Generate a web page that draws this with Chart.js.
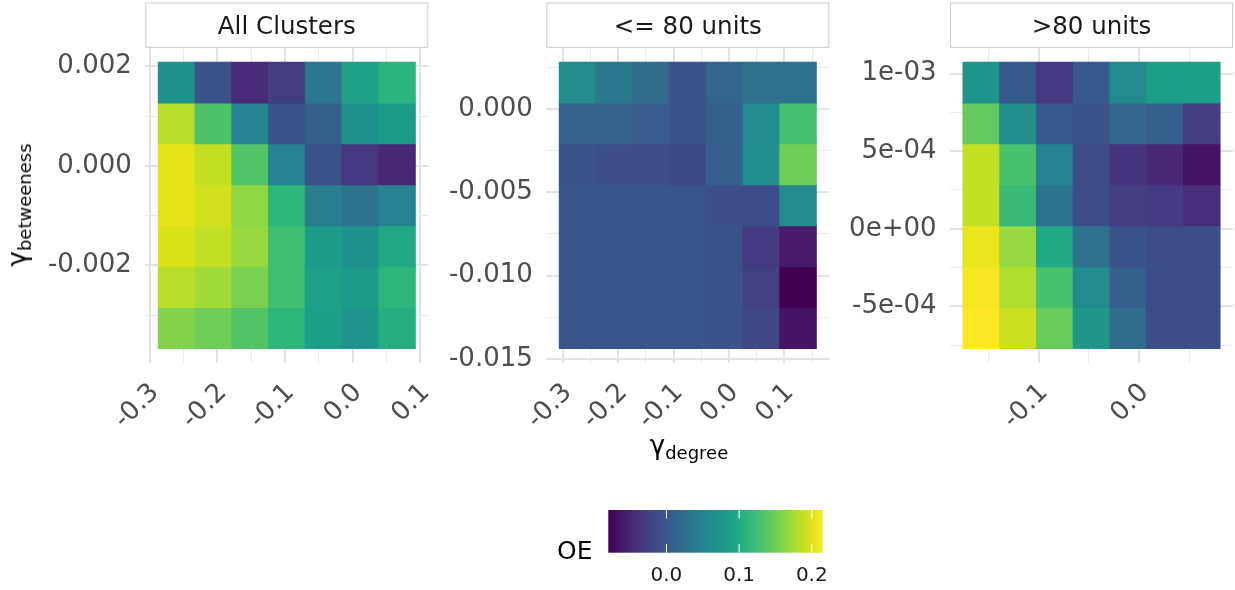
<!DOCTYPE html>
<html>
<head>
<meta charset="utf-8">
<title>OE by gamma degree / gamma betweeness</title>
<script src="https://cdn.jsdelivr.net/npm/chart.js@4.4.1/dist/chart.umd.min.js"></script>
<style>
  html, body { margin: 0; padding: 0; background: #fff; }
  #wrap { position: relative; width: 1235px; height: 590px; overflow: hidden; font-family: "DejaVu Sans", sans-serif; }
  #wrap canvas { position: absolute; left: 0; top: 0; }
  .title { position: absolute; white-space: nowrap; line-height: 1; height: 26px; font-size: 26px; color: #000; }
  .title sub { font-size: 18px; vertical-align: -5px; line-height: 1; }
</style>
</head>
<body>
<div id="wrap">
  <canvas id="facetAll" width="1235" height="590"></canvas>
  <canvas id="facetSmall" width="1235" height="590"></canvas>
  <canvas id="facetLarge" width="1235" height="590"></canvas>
  <canvas id="colorbar" width="1235" height="590"></canvas>
  <div class="title" id="yTitle" style="left:17px; top:205px; transform: translate(-50%, -50%) rotate(-90deg);">γ<sub>betweeness</sub></div>
  <div class="title" id="xTitle" style="left:689px; top:432px; transform: translateX(-50%);">γ<sub>degree</sub></div>
  <div class="title" id="legendTitle" style="left:557px; top:538px; font-size:25px;">OE</div>
</div>
<script>
// Heatmap of OE over gamma_degree x gamma_betweeness, one facet per cluster size

const facetTitles = ['All Clusters', '<= 80 units', '>80 units'];

// gamma_degree tile centres (columns), per facet
const degreeAll   = [-0.2601, -0.2058, -0.1516, -0.0973, -0.0430, 0.0112, 0.0655];
const degreeSmall = [-0.2731, -0.2068, -0.1406, -0.0743, -0.0080, 0.0583, 0.1245];
const degreeLarge = [-0.1570, -0.1205, -0.0840, -0.0475, -0.0110, 0.0255, 0.0620];

// gamma_betweeness tile centres (rows, top row first), per facet
const betweenAll   = [0.001676, 0.000853, 0.000030, -0.000793, -0.001616, -0.002439, -0.003262];
const betweenSmall = [0.001590, -0.000867, -0.003324, -0.005781, -0.008238, -0.010695, -0.013152];
const betweenLarge = [0.000943, 0.000679, 0.000415, 0.000151, -0.000113, -0.000377, -0.000641];

// OE per tile: one row per betweeness value (top first), one column per degree value
const oeAll = [
  [0.068, -0.006, -0.045, -0.027, 0.036, 0.088, 0.110],
  [0.183, 0.132, 0.050, -0.006, 0.009, 0.068, 0.080],
  [0.203, 0.188, 0.135, 0.050, -0.006, -0.033, -0.048],
  [0.203, 0.194, 0.165, 0.112, 0.047, 0.032, 0.050],
  [0.197, 0.188, 0.168, 0.124, 0.082, 0.068, 0.097],
  [0.183, 0.174, 0.156, 0.124, 0.088, 0.082, 0.112],
  [0.159, 0.150, 0.135, 0.112, 0.085, 0.073, 0.103]
];
const oeSmall = [
  [0.059, 0.038, 0.023, -0.006, 0.017, 0.029, 0.029],
  [0.012, 0.014, 0.006, -0.006, 0.009, 0.059, 0.127],
  [-0.006, -0.009, -0.009, -0.015, 0.009, 0.065, 0.150],
  [-0.003, -0.003, -0.003, -0.003, -0.009, -0.012, 0.059],
  [-0.003, -0.003, -0.003, -0.003, -0.006, -0.030, -0.059],
  [-0.003, -0.003, -0.003, -0.003, -0.006, -0.024, -0.080],
  [-0.003, -0.003, -0.003, -0.003, -0.006, -0.018, -0.065]
];
const oeLarge = [
  [0.073, 0.003, -0.033, 0.003, 0.059, 0.085, 0.085],
  [0.144, 0.065, 0.003, -0.006, 0.017, 0.009, -0.027],
  [0.188, 0.130, 0.050, -0.012, -0.036, -0.048, -0.065],
  [0.188, 0.118, 0.032, -0.012, -0.027, -0.030, -0.042],
  [0.206, 0.168, 0.097, 0.029, -0.006, -0.012, -0.009],
  [0.212, 0.180, 0.130, 0.059, 0.009, -0.012, -0.009],
  [0.215, 0.191, 0.147, 0.076, 0.023, -0.012, -0.009]
];

// axis breaks (labelled ticks)
const degreeBreaksAll   = [-0.3, -0.2, -0.1, 0.0, 0.1];
const degreeBreaksSmall = [-0.3, -0.2, -0.1, 0.0, 0.1];
const degreeBreaksLarge = [-0.1, 0.0];
const betweenBreaksAll   = [-0.002, 0.000, 0.002];
const betweenBreaksSmall = [-0.015, -0.010, -0.005, 0.000];
const betweenBreaksLarge = [-0.0005, 0.0000, 0.0005, 0.0010];
const oeBreaks = [0.0, 0.1, 0.2];

const FONT = '"DejaVu Sans", "Liberation Sans", sans-serif';
const TICK_COLOR = '#4d4d4d';
const GRID_MAJOR = '#e3e3e3';
const GRID_MINOR = '#ebebeb';
const PANEL_TOP = 47.7, PANEL_BOTTOM = 363, X_AXIS_H = 110, Y_AXIS_W = 100;

const viridisStops = ['#440154', '#471365', '#482475', '#463480', '#414487', '#3b528b', '#355f8d',
  '#2f6c8e', '#2a788e', '#25848e', '#21918c', '#1e9c89', '#22a884', '#2fb47c', '#44bf70',
  '#5ec962', '#7ad151', '#9bd93c', '#bddf26', '#dfe318', '#fde725'];

function hexRgb(h) { return [1, 3, 5].map(i => parseInt(h.slice(i, i + 2), 16)); }

function viridis(t) {
  t = Math.max(0, Math.min(1, t));
  const n = viridisStops.length - 1;
  const i = Math.min(n - 1, Math.floor(t * n));
  const f = t * n - i;
  const a = hexRgb(viridisStops[i]), b = hexRgb(viridisStops[i + 1]);
  const c = a.map((v, k) => Math.round(v + (b[k] - v) * f));
  return `rgb(${c[0]},${c[1]},${c[2]})`;
}

const allOE = [...oeAll, ...oeSmall, ...oeLarge].flat();
const oeMin = Math.min(...allOE), oeMax = Math.max(...allOE);

function expandRange(centres) {
  const step = Math.abs(centres[1] - centres[0]);
  const lo = Math.min(...centres) - step / 2, hi = Math.max(...centres) + step / 2;
  const pad = (hi - lo) * 0.05;
  return [lo - pad, hi + pad];
}

function minorBreaks(breaks, lo, hi) {
  const step = breaks[1] - breaks[0];
  const out = [];
  for (let i = -1; i < breaks.length; i++) {
    const v = (i < 0 ? breaks[0] - step : breaks[i]) + step / 2;
    if (v > lo && v < hi) out.push(v);
  }
  return out;
}

const isMajor = (v, breaks) => breaks.some(b => Math.abs(b - v) < 1e-10);
const fixed = d => v => (Math.abs(v) < 1e-12 ? 0 : v).toFixed(d);
function sci(v) {
  if (Math.abs(v) < 1e-15) return '0e+00';
  const e = Math.floor(Math.log10(Math.abs(v)) + 1e-9);
  const m = Math.round(v / Math.pow(10, e) * 100) / 100;
  return m + 'e' + (e < 0 ? '-' : '+') + String(Math.abs(e)).padStart(2, '0');
}

// facet strip drawn above the panel
const stripPlugin = {
  id: 'strip',
  afterDraw(chart, args, opts) {
    const { ctx, chartArea: a } = chart;
    ctx.save();
    ctx.fillStyle = '#fff';
    ctx.strokeStyle = '#cccccc';
    ctx.lineWidth = 1;
    ctx.fillRect(a.left, 2.7, a.right - a.left, 44.6);
    ctx.strokeRect(a.left + 0.5, 3, a.right - a.left - 1, 44.3);
    ctx.fillStyle = '#1a1a1a';
    ctx.font = '24.5px ' + FONT;
    ctx.textAlign = 'center';
    ctx.textBaseline = 'alphabetic';
    ctx.fillText(opts.text, (a.left + a.right) / 2, 34.3);
    ctx.restore();
  }
};

const facets = [
  { id: 'facetAll', title: facetTitles[0], xs: degreeAll, ys: betweenAll, z: oeAll,
    xBreaks: degreeBreaksAll, yBreaks: betweenBreaksAll, xFmt: fixed(1), yFmt: fixed(3), left: 145.3, right: 428.3 },
  { id: 'facetSmall', title: facetTitles[1], xs: degreeSmall, ys: betweenSmall, z: oeSmall,
    xBreaks: degreeBreaksSmall, yBreaks: betweenBreaksSmall, xFmt: fixed(1), yFmt: fixed(3), left: 546.3, right: 829.3 },
  { id: 'facetLarge', title: facetTitles[2], xs: degreeLarge, ys: betweenLarge, z: oeLarge,
    xBreaks: degreeBreaksLarge, yBreaks: betweenBreaksLarge, xFmt: fixed(1), yFmt: sci, left: 950, right: 1233 }
];

function drawFacet(f) {
  const xr = expandRange(f.xs), yr = expandRange(f.ys);
  const dy = Math.abs(f.ys[1] - f.ys[0]);
  const inX = v => v >= xr[0] && v <= xr[1];
  const inY = v => v >= yr[0] && v <= yr[1];
  const yTicks = [...f.yBreaks.filter(inY), ...minorBreaks(f.yBreaks, yr[0], yr[1])].sort((a, b) => a - b);
  const tickFont = { family: FONT, size: 26 };

  // one floating-bar dataset per betweeness row
  const datasets = f.ys.map((yc, r) => ({
    data: f.xs.map(xc => ({ x: xc, y: [yc - dy / 2, yc + dy / 2] })),
    backgroundColor: f.z[r].map(v => viridis((v - oeMin) / (oeMax - oeMin))),
    borderWidth: 0,
    grouped: false,
    barPercentage: 1,
    categoryPercentage: 1,
    inflateAmount: 0.4,
    xAxisID: 'x',
    yAxisID: 'y'
  }));

  return new Chart(document.getElementById(f.id), {
    type: 'bar',
    data: { datasets },
    options: {
      responsive: false,
      animation: false,
      events: [],
      devicePixelRatio: 1,
      layout: {
        autoPadding: false,
        padding: { left: f.left - Y_AXIS_W, right: 1235 - f.right, top: PANEL_TOP, bottom: 590 - PANEL_BOTTOM - X_AXIS_H }
      },
      plugins: { legend: { display: false }, tooltip: { enabled: false }, strip: { text: f.title } },
      scales: {
        x: {
          type: 'linear', position: 'bottom', min: xr[0], max: xr[1], offset: false,
          grid: { offset: false, drawTicks: false, color: GRID_MAJOR, lineWidth: 2 },
          border: { display: false },
          ticks: { autoSkip: false, minRotation: 45, maxRotation: 45, padding: 14.4, labelOffset: 5.3,
                   color: TICK_COLOR, font: tickFont, callback: v => f.xFmt(v) },
          afterBuildTicks: s => { s.ticks = f.xBreaks.filter(inX).map(v => ({ value: v })); },
          afterFit: s => { s.height = X_AXIS_H; }
        },
        xMinor: {
          type: 'linear', position: 'bottom', min: xr[0], max: xr[1], offset: false,
          grid: { offset: false, drawTicks: false, color: GRID_MINOR, lineWidth: 1 },
          border: { display: false },
          ticks: { display: false },
          afterBuildTicks: s => { s.ticks = minorBreaks(f.xBreaks, xr[0], xr[1]).map(v => ({ value: v })); },
          afterFit: s => { s.height = 0; }
        },
        y: {
          type: 'linear', position: 'left', min: yr[0], max: yr[1],
          grid: {
            drawTicks: false,
            color: c => (c.tick && isMajor(c.tick.value, f.yBreaks)) ? GRID_MAJOR : GRID_MINOR,
            lineWidth: c => (c.tick && isMajor(c.tick.value, f.yBreaks)) ? 2 : 1
          },
          border: { display: false },
          ticks: { autoSkip: false, padding: 13.5, color: TICK_COLOR, font: tickFont,
                   callback: v => isMajor(v, f.yBreaks) ? f.yFmt(v) : '' },
          afterBuildTicks: s => { s.ticks = yTicks.map(v => ({ value: v })); },
          afterFit: s => { s.width = Y_AXIS_W; }
        }
      }
    },
    plugins: [stripPlugin]
  });
}

facets.forEach(drawFacet);

// colour bar legend for OE
const colorbarPlugin = {
  id: 'colorbar',
  beforeDatasetsDraw(chart) {
    const { ctx, chartArea: a, scales: { x } } = chart;
    const g = ctx.createLinearGradient(a.left, 0, a.right, 0);
    viridisStops.forEach((c, i) => g.addColorStop(i / (viridisStops.length - 1), c));
    ctx.save();
    ctx.fillStyle = g;
    ctx.fillRect(a.left, a.top, a.right - a.left, a.bottom - a.top);
    ctx.strokeStyle = '#fff';
    ctx.lineWidth = 1;
    const tl = (a.bottom - a.top) / 5;
    oeBreaks.forEach(v => {
      const px = x.getPixelForValue(v);
      ctx.beginPath();
      ctx.moveTo(px, a.top); ctx.lineTo(px, a.top + tl);
      ctx.moveTo(px, a.bottom - tl); ctx.lineTo(px, a.bottom);
      ctx.stroke();
    });
    ctx.restore();
  }
};

new Chart(document.getElementById('colorbar'), {
  type: 'scatter',
  data: { datasets: [{ data: [] }] },
  options: {
    responsive: false,
    animation: false,
    events: [],
    devicePixelRatio: 1,
    layout: { autoPadding: false, padding: { left: 608.3, right: 1235 - 822.7, top: 510, bottom: 0 } },
    plugins: { legend: { display: false }, tooltip: { enabled: false } },
    scales: {
      x: {
        type: 'linear', min: oeMin, max: oeMax,
        grid: { display: false, drawTicks: false },
        border: { display: false },
        ticks: { autoSkip: false, maxRotation: 0, padding: 11, color: '#1a1a1a',
                 font: { family: FONT, size: 20 }, callback: v => fixed(1)(v) },
        afterBuildTicks: s => { s.ticks = oeBreaks.map(v => ({ value: v })); },
        afterFit: s => { s.height = 590 - 552.7; }
      },
      y: { display: false }
    }
  },
  plugins: [colorbarPlugin]
});
</script>
</body>
</html>
